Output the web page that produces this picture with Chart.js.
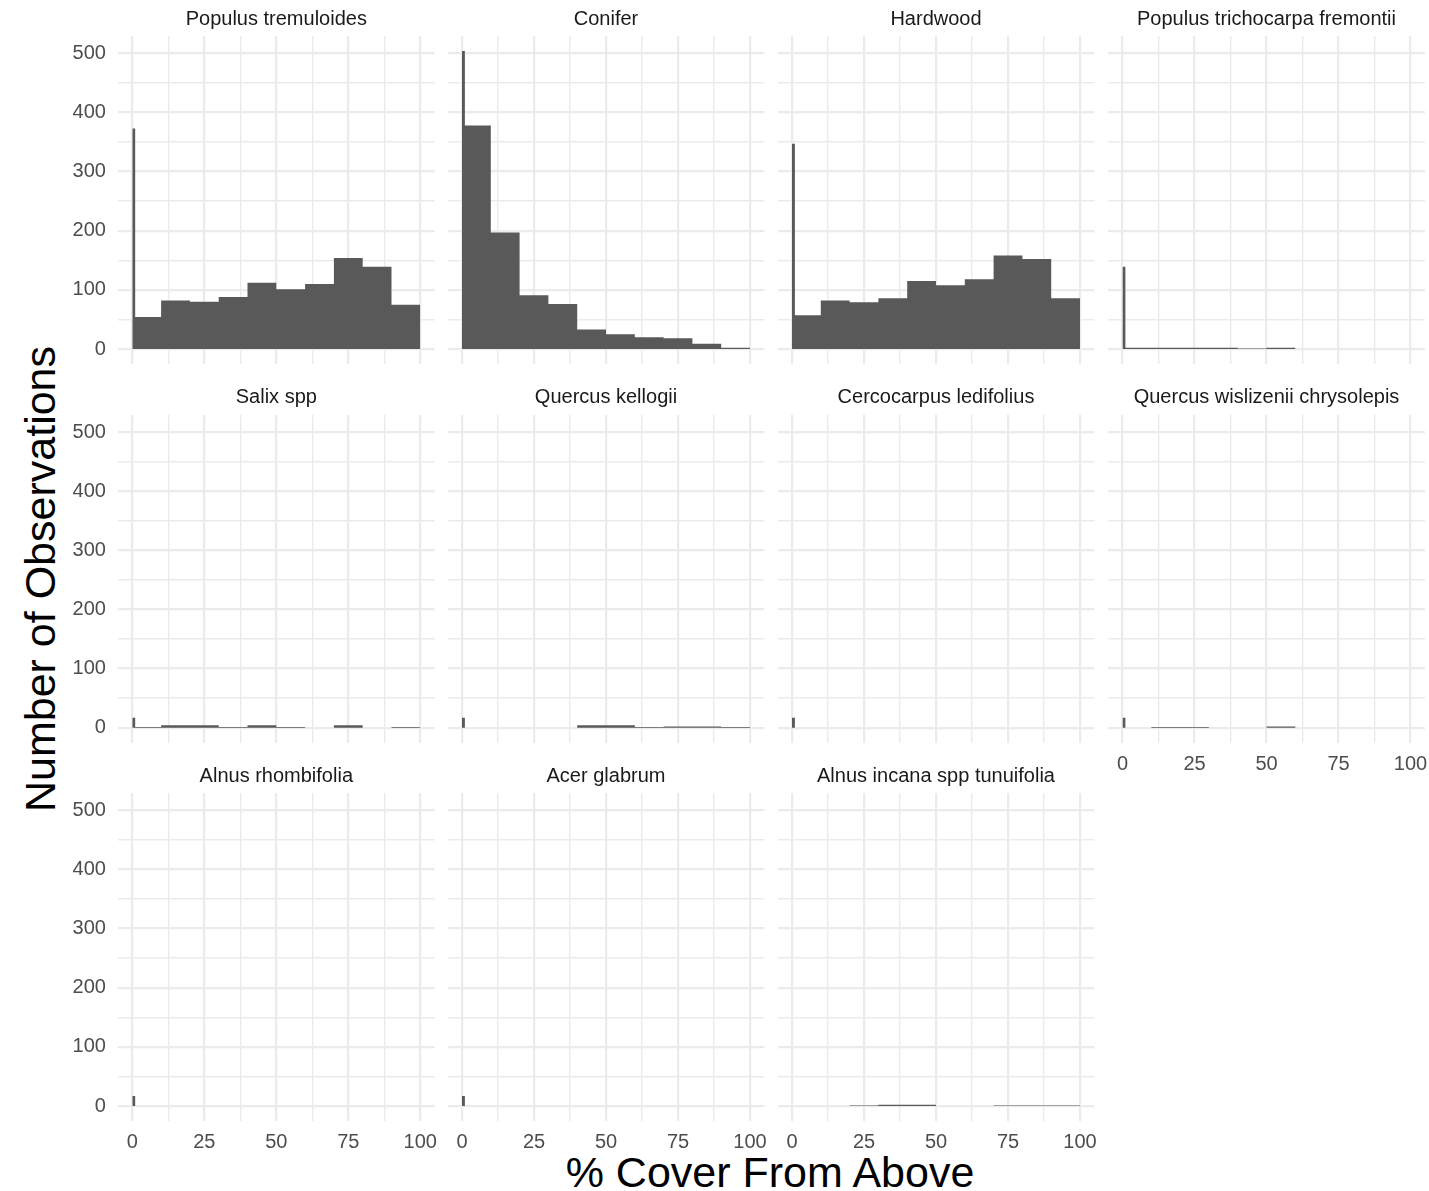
<!DOCTYPE html>
<html>
<head>
<meta charset="utf-8">
<title>% Cover From Above</title>
<script src="https://cdn.jsdelivr.net/npm/chart.js"></script>
<style>
    html, body { margin: 0; padding: 0; background: #fff; }
    #page { position: relative; width: 1429px; height: 1191px; overflow: hidden;
            font-family: 'Liberation Sans', Arial, Helvetica, sans-serif; }
    #page canvas { position: absolute; }
    .axis-title { position: absolute; color: #000; font-size: 43px; white-space: nowrap;
                  transform: translate(-50%, -50%); }
    #ytitle { left: 40px; top: 579px; transform: translate(-50%, -50%) rotate(-90deg); }
    #xtitle { left: 770px; top: 1172px; }
</style>
</head>
<body>
<div id="page">
    <div class="axis-title" id="ytitle">Number of Observations</div>
    <div class="axis-title" id="xtitle">% Cover From Above</div>
</div>
<script>
// bin edges: narrow spike at 0 first, then 10-wide bins up to 100
const binEdges = [0, 1, 10, 20, 30, 40, 50, 60, 70, 80, 90, 100];
const xTicks = [0, 12.5, 25, 37.5, 50, 62.5, 75, 87.5, 100];
const yTicks = [0, 50, 100, 150, 200, 250, 300, 350, 400, 450, 500];

const panelNames = [
    'Populus tremuloides', 'Conifer', 'Hardwood', 'Populus trichocarpa fremontii',
    'Salix spp', 'Quercus kellogii', 'Cercocarpus ledifolius', 'Quercus wislizenii chrysolepis',
    'Alnus rhombifolia', 'Acer glabrum', 'Alnus incana spp tunuifolia'
];

// counts per bin (spike, 0-10, 10-20, ..., 90-100)
const populusTremuloides = [373, 54, 82, 80, 88, 112, 101, 110, 154, 139, 75];
const conifer            = [504, 378, 197, 91, 76, 33, 25, 20, 18, 9, 2];
const hardwood           = [347, 57, 82, 79, 86, 115, 108, 118, 158, 152, 86];
const populusTrichocarpa = [139, 2, 2, 2, 2, 1, 2, 0, 0, 0, 0];
const salixSpp           = [17, 1, 4, 4, 1, 4, 1, 0, 4, 0, 1];
const quercusKellogii    = [17, 0, 0, 0, 0, 4, 4, 1, 2, 2, 1];
const cercocarpus        = [17, 0, 0, 0, 0, 0, 0, 0, 0, 0, 0];
const quercusWislizenii  = [17, 0, 1, 1, 0, 0, 2, 0, 0, 0, 0];
const alnusRhombifolia   = [17, 0, 0, 0, 0, 0, 0, 0, 0, 0, 0];
const acerGlabrum        = [17, 0, 0, 0, 0, 0, 0, 0, 0, 0, 0];
const alnusIncana        = [0, 0, 0, 1, 2, 2, 0, 0, 1, 1, 1];

const panelCounts = [
    populusTremuloides, conifer, hardwood, populusTrichocarpa,
    salixSpp, quercusKellogii, cercocarpus, quercusWislizenii,
    alnusRhombifolia, acerGlabrum, alnusIncana
];

Chart.defaults.font.family = "'Liberation Sans', Arial, Helvetica, sans-serif";
Chart.defaults.color = '#4D4D4D';

var facetHistograms = (function () {
    // panel geometry (ggplot facet_wrap layout, 4 columns)
    var pxPerX = 2.88, pxPerY = 0.5914;
    var xMin = -5, xMax = 105, yMin = -25.2, yMax = 529.2;
    var colZero = [132.3, 462, 792, 1122.5]; // pixel of x = 0 per column
    var rowZero = [349, 727.7, 1106];        // pixel of y = 0 per row

    function toSteps(counts) {
        // one point per bin edge, last edge repeats the last count
        return binEdges.map(function (edge, i) {
            return { x: edge, y: counts[Math.min(i, counts.length - 1)] };
        });
    }

    function drawPanel(i) {
        var row = Math.floor(i / 4), col = i % 4;
        var showY = col === 0;
        var showX = row === 2 || (row === 1 && col === 3);

        var plotLeft = colZero[col] + xMin * pxPerX;
        var plotTop = rowZero[row] - yMax * pxPerY;
        var plotW = (xMax - xMin) * pxPerX;
        var plotH = (yMax - yMin) * pxPerY;

        // keep room below every panel so label padding never squeezes the plot
        var left = showY ? 0 : Math.floor(plotLeft - 4);
        var top = Math.floor(plotTop - 36);
        var width = Math.ceil(plotLeft + plotW + 16 - left);
        var height = Math.ceil(plotTop + plotH + 46 - top);
        var yAxisW = plotLeft - left;
        var xAxisH = top + height - plotTop - plotH;
        var padTop = plotTop - 36 - top;
        var padRight = left + width - plotLeft - plotW;

        var canvas = document.createElement('canvas');
        canvas.width = width;
        canvas.height = height;
        canvas.style.left = left + 'px';
        canvas.style.top = top + 'px';
        canvas.style.width = width + 'px';
        canvas.style.height = height + 'px';
        document.getElementById('page').appendChild(canvas);

        new Chart(canvas.getContext('2d'), {
            type: 'line',
            data: {
                datasets: [{
                    data: toSteps(panelCounts[i]),
                    stepped: true,
                    fill: 'origin',
                    backgroundColor: '#595959',
                    borderWidth: 0,
                    pointRadius: 0
                }]
            },
            options: {
                responsive: false,
                animation: false,
                devicePixelRatio: 1,
                layout: { padding: { top: padTop, right: padRight, left: 0, bottom: 0 } },
                plugins: {
                    legend: { display: false },
                    tooltip: { enabled: false },
                    title: {
                        display: true,
                        fullSize: false, // centre the strip over the plot area only
                        text: panelNames[i],
                        color: '#1A1A1A',
                        font: { size: 20, weight: 'normal' },
                        padding: { top: 7, bottom: 5 }
                    }
                },
                scales: {
                    x: {
                        type: 'linear', min: xMin, max: xMax,
                        border: { display: false },
                        grid: {
                            color: '#EBEBEB', drawTicks: false,
                            lineWidth: function (c) { return c.tick.value % 25 === 0 ? 2.2 : 1.4; }
                        },
                        ticks: {
                            display: showX, autoSkip: false, maxRotation: 0, padding: 10,
                            font: { size: 20 }, color: '#4D4D4D',
                            callback: function (v) { return v % 25 === 0 ? v : ''; }
                        },
                        afterBuildTicks: function (s) { s.ticks = xTicks.map(function (v) { return { value: v }; }); },
                        afterFit: function (s) { s.height = xAxisH; }
                    },
                    y: {
                        type: 'linear', min: yMin, max: yMax,
                        border: { display: false },
                        grid: {
                            color: '#EBEBEB', drawTicks: false,
                            lineWidth: function (c) { return c.tick.value % 100 === 0 ? 2.2 : 1.4; }
                        },
                        ticks: {
                            display: showY, autoSkip: false, padding: 12,
                            font: { size: 20 }, color: '#4D4D4D',
                            callback: function (v) { return v % 100 === 0 ? v : ''; }
                        },
                        afterBuildTicks: function (s) { s.ticks = yTicks.map(function (v) { return { value: v }; }); },
                        afterFit: function (s) { s.width = yAxisW; }
                    }
                }
            }
        });
    }

    return {
        init: function () {
            panelNames.forEach(function (name, i) { drawPanel(i); });
        }
    };
})();

facetHistograms.init();
</script>
</body>
</html>
